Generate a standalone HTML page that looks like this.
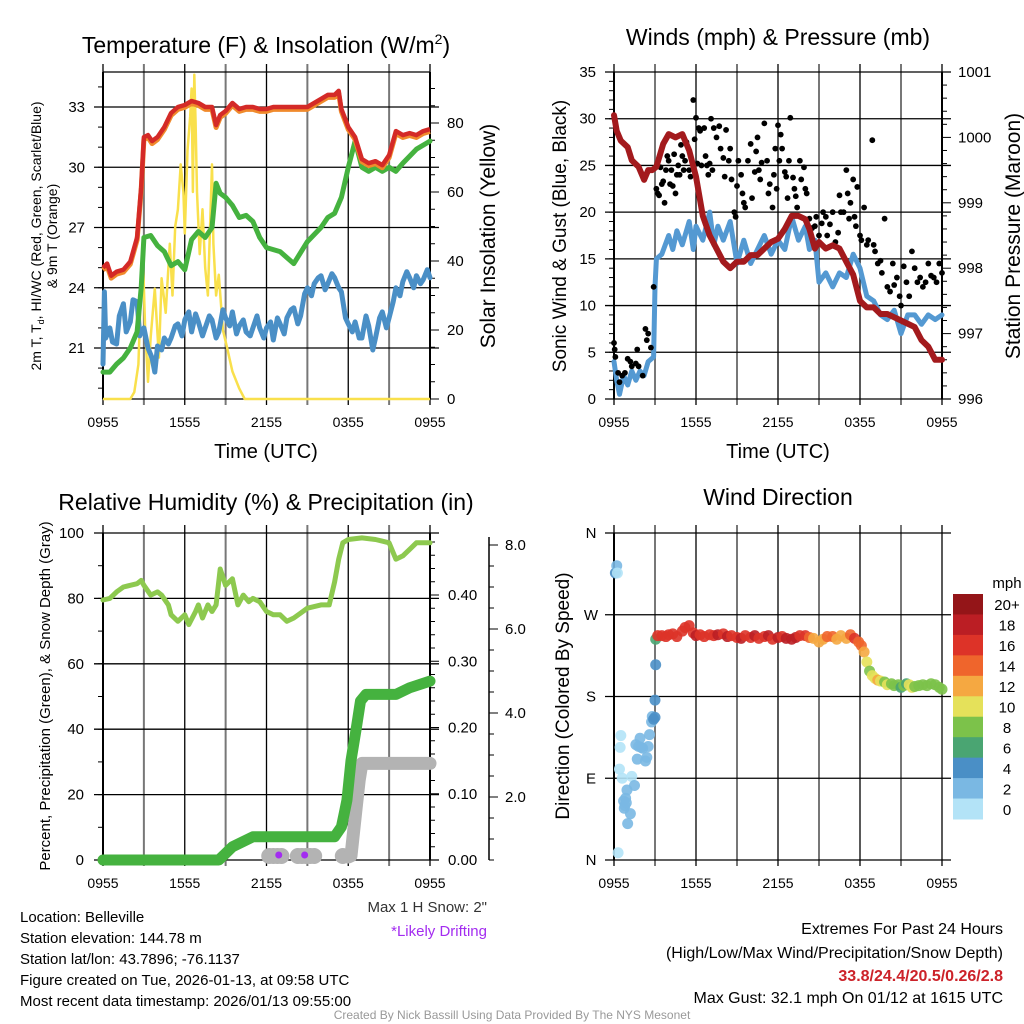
<!DOCTYPE html>
<html><head><meta charset="utf-8">
<style>
html,body{margin:0;padding:0;background:#fff;}
svg{display:block;font-family:"Liberation Sans",Arial,sans-serif;}
</style></head>
<body>
<svg id="fig" width="1024" height="1024" viewBox="0 0 1024 1024" xmlns="http://www.w3.org/2000/svg">
<g id="texts" fill="#000">
<text x="266" y="53" font-size="23" text-anchor="middle">Temperature (F) &amp; Insolation (W/m<tspan font-size="14" dy="-9">2</tspan><tspan dy="9">)</tspan></text>
<text x="778" y="45" font-size="23" text-anchor="middle">Winds (mph) &amp; Pressure (mb)</text>
<text x="266" y="510" font-size="23" text-anchor="middle">Relative Humidity (%) &amp; Precipitation (in)</text>
<text x="778" y="505" font-size="23" text-anchor="middle">Wind Direction</text>
<text x="266" y="458" font-size="20" text-anchor="middle">Time (UTC)</text>
<text x="778" y="458" font-size="20" text-anchor="middle">Time (UTC)</text>
<text transform="translate(41,236) rotate(-90)" font-size="14" text-anchor="middle">2m T, T<tspan font-size="9" dy="3">d</tspan><tspan dy="-3">, HI/WC (Red, Green, Scarlet/Blue)</tspan></text>
<text transform="translate(57,236) rotate(-90)" font-size="14" text-anchor="middle">&amp; 9m T (Orange)</text>
<text transform="translate(495,236) rotate(-90)" font-size="21" text-anchor="middle">Solar Insolation (Yellow)</text>
<text transform="translate(566,236) rotate(-90)" font-size="19" text-anchor="middle">Sonic Wind &amp; Gust (Blue, Black)</text>
<text transform="translate(1020,236) rotate(-90)" font-size="21" text-anchor="middle">Station Pressure (Maroon)</text>
<text transform="translate(50,696) rotate(-90)" font-size="15" text-anchor="middle">Percent, Precipitation (Green), &amp; Snow Depth (Gray)</text>
<text transform="translate(569,696) rotate(-90)" font-size="19" text-anchor="middle">Direction (Colored By Speed)</text>
<text x="487" y="912" font-size="15" fill="#333" text-anchor="end">Max 1 H Snow: 2"</text>
<text x="487" y="936" font-size="15" fill="#a32cf0" text-anchor="end">*Likely Drifting</text>
<g font-size="15">
<text x="20" y="922">Location: Belleville</text>
<text x="20" y="943">Station elevation: 144.78 m</text>
<text x="20" y="964">Station lat/lon: 43.7896; -76.1137</text>
<text x="20" y="985">Figure created on Tue, 2026-01-13, at 09:58 UTC</text>
<text x="20" y="1006">Most recent data timestamp: 2026/01/13 09:55:00</text>
</g>
<g font-size="16" text-anchor="end">
<text x="1003" y="934">Extremes For Past 24 Hours</text>
<text x="1003" y="958">(High/Low/Max Wind/Precipitation/Snow Depth)</text>
<text x="1003" y="981" fill="#cc2229" font-weight="bold">33.8/24.4/20.5/0.26/2.8</text>
<text x="1003" y="1003">Max Gust: 32.1 mph On 01/12 at 1615 UTC</text>
</g>
<text x="512" y="1019" font-size="12" fill="#999" text-anchor="middle">Created By Nick Bassill Using Data Provided By The NYS Mesonet</text>
<text x="1007" y="588" font-size="15" text-anchor="middle">mph</text>
</g>
</svg>
<script>
// ===== Data =====
const xTickLabels = ['0955','1555','2155','0355','0955'];
// Temperature panel (hours since 0955 UTC)
const tempH = [0,0.3,0.6,1,1.5,2,2.5,2.8,3.0,3.3,3.6,4,4.5,5,5.5,6,6.5,7,7.5,8,8.3,8.6,9,9.5,10,10.5,11,11.5,12,12.5,13,13.5,14,14.5,15,15.5,16,16.5,17,17.3,17.5,18,18.5,19,19.5,20,20.5,21,21.5,22,22.5,23,23.5,24];
const tempF = [25.0,25.2,24.6,24.8,24.9,25.3,26.5,29.0,31.5,31.6,31.3,31.5,32.0,32.7,33.0,33.1,33.3,33.2,33.0,33.0,32.1,32.6,32.8,33.2,32.9,33.0,33.0,32.9,32.9,33.0,33.0,33.0,33.0,33.0,33.0,33.2,33.4,33.6,33.6,33.8,32.9,32.0,31.5,30.4,30.2,30.3,30.1,30.6,31.8,31.6,31.7,31.6,31.8,31.9];
const dewH = [0,0.5,1,1.5,2,2.5,2.8,3.0,3.5,4,4.5,5,5.5,6,6.5,7,7.5,8,8.3,8.6,9,9.5,10,10.5,11,11.5,12,12.5,13,13.5,14,15,16,16.5,17,17.5,18,18.5,19,19.5,20,20.5,21,21.5,22,23,24];
const dewF = [19.8,19.8,20.2,20.5,21.0,21.8,24.0,26.5,26.6,26.1,25.8,25.1,25.3,24.9,26.4,26.8,26.5,27.0,29.2,28.7,28.5,28.1,27.5,27.6,27.3,26.5,26.0,25.9,25.8,25.5,25.2,26.3,27.0,27.5,27.7,28.5,30.0,31.3,30.0,29.8,30.0,29.8,30.0,29.8,30.2,30.9,31.3];
const wcH = [0,0.1,0.2,0.5,0.7,1,1.2,1.5,1.7,2,2.2,2.5,2.7,3,3.3,3.6,3.8,4,4.3,4.5,4.8,5,5.3,5.5,5.8,6,6.3,6.5,6.8,7,7.3,7.5,7.8,8,8.3,8.5,8.8,9,9.3,9.5,9.8,10,10.3,10.5,10.8,11,11.3,11.5,11.8,12,12.3,12.5,12.8,13,13.3,13.5,13.8,14,14.3,14.5,14.8,15,15.3,15.5,15.8,16,16.3,16.5,16.8,17,17.3,17.5,17.8,18,18.3,18.5,18.8,19,19.3,19.5,19.8,20,20.3,20.5,20.8,21,21.3,21.5,21.8,22,22.3,22.5,22.8,23,23.3,23.5,23.8,24];
const wcF = [20.2,23.8,21.5,22.0,21.3,21.2,22.6,23.2,21.8,22.3,23.4,23.3,21.6,22.0,21.0,20.5,19.8,21.1,20.9,21.5,21.2,21.5,22.1,22.2,21.6,22.4,22.8,21.8,22.7,22.3,21.6,22.0,22.6,22.4,21.5,21.8,22.9,22.5,22.1,22.8,21.7,22.1,22.4,21.8,21.6,22.0,22.6,22.0,21.5,22.0,22.3,21.4,22.5,22.2,21.7,22.5,22.9,23.0,22.2,22.6,23.7,24.0,23.6,24.2,24.5,24.6,23.9,24.2,24.7,24.5,24.0,23.8,22.5,22.2,21.8,22.3,21.5,21.5,22.6,22.1,20.9,21.5,22.5,22.8,22.0,22.5,23.3,24.0,23.6,24.3,24.8,24.5,24.0,24.6,24.2,24.4,24.9,24.5];
const solH = [0,2.0,2.3,2.6,2.9,3.1,3.3,3.5,3.8,4.1,4.3,4.6,4.9,5.1,5.3,5.5,5.7,5.9,6.0,6.2,6.4,6.5,6.6,6.7,6.8,6.9,7.1,7.3,7.5,7.7,7.9,8.0,8.1,8.3,8.5,8.8,9.1,9.5,10,10.4,24];
const solW = [0,0,2,10,45,20,5,18,32,12,35,25,45,30,50,55,68,60,48,72,82,90,60,94,80,60,42,55,38,30,55,68,45,30,36,20,15,8,3,0,0];
// Wind panel
const windH = [0,0.2,0.4,0.7,1,1.3,1.6,1.9,2.2,2.5,2.9,3.0,3.1,3.5,4,4.3,4.6,5,5.5,5.8,6,6.5,7,7.3,7.6,8,8.5,9,9.5,10,10.5,11,11.5,12,12.5,13,13.5,14,14.3,14.7,15,15.5,16,16.5,17,17.5,18,18.5,19,19.5,20,20.5,21,21.5,22,22.5,23,23.5,24];
const windMph = [4,2,0.5,2.5,1.5,3,2,3,2.5,4,4.5,12,15,15.5,17.5,16,18,16.5,19,16,18.5,17,20,16.5,18.5,17,19,14.5,17,14.5,16,17.5,15.5,17,16,19.5,17,18.5,16,17,12.5,13.5,12,13.5,13,15.5,14,11,10.5,9,8.5,9.5,7,9,9,8,9,8.5,9];
const presH = [0,0.2,0.5,1,1.3,1.8,2.2,2.5,2.8,3.1,3.6,4,4.5,5,5.5,6,6.5,7,7.5,8,8.5,9,9.5,10,10.5,11,11.5,12,12.5,13,13.5,14,14.3,14.7,15,15.5,16,16.5,17,17.5,18,18.5,19,19.5,20,21,22,22.5,23,23.5,24];
const presMb = [1000.34,1000.1,999.95,999.85,999.65,999.55,999.35,999.5,999.5,999.55,999.9,1000.05,1000.0,1000.05,999.8,999.4,998.8,998.5,998.3,998.1,998.0,998.1,998.1,998.2,998.2,998.3,998.4,998.45,998.6,998.8,998.8,998.75,998.6,998.3,998.4,998.3,998.35,998.3,998.1,997.9,997.5,997.4,997.4,997.3,997.3,997.2,997.1,996.9,996.8,996.6,996.6];
const gustH = [0,0.05,0.1,0.3,0.4,0.6,0.8,1.0,1.2,1.3,1.6,1.7,1.8,2.1,2.3,2.4,2.5,2.7,2.9,3.1,3.2,3.3,3.4,3.5,3.6,3.7,3.8,3.9,4.0,4.1,4.2,4.3,4.4,4.5,4.6,4.7,4.8,4.9,5.0,5.1,5.2,5.3,5.5,5.6,5.8,5.9,6.0,6.1,6.2,6.3,6.4,6.6,6.7,6.8,6.9,7.0,7.1,7.2,7.3,7.5,7.7,7.8,8.0,8.1,8.2,8.4,8.5,8.6,8.8,8.9,9.0,9.1,9.3,9.4,9.5,9.6,9.8,10.0,10.1,10.3,10.4,10.5,10.6,10.7,10.8,11.0,11.2,11.3,11.4,11.6,11.7,11.8,11.9,12.0,12.1,12.2,12.3,12.5,12.6,12.7,12.8,12.9,13.1,13.2,13.3,13.4,13.6,13.7,13.9,14.0,14.1,14.3,14.5,14.7,14.8,15.0,15.2,15.3,15.5,15.6,15.8,16.0,16.2,16.4,16.5,16.6,16.8,17.0,17.1,17.2,17.3,17.5,17.6,17.7,17.8,18.0,18.1,18.3,18.5,18.6,18.9,19.0,19.1,19.3,19.5,19.6,19.8,20.0,20.2,20.4,20.5,20.7,20.9,21.0,21.2,21.4,21.6,21.8,22.0,22.2,22.4,22.6,22.8,23.0,23.2,23.4,23.6,23.8,24.0];
const gustMph = [6,5.3,4.5,2.8,1.8,2.5,2.8,4.3,4.0,3.5,3.8,5.3,3.5,2.5,7.5,6.3,7.0,5.5,12,22.5,22,21.8,24.8,23,23.3,21,24.5,26,25.5,23,24.5,22.8,26.2,22,24,25,24,27.2,26,24.5,25.5,27.5,24.5,23.8,32,27.8,30.1,25.2,29,28.7,25,29,26,25,24,25.2,30,24.5,29,28,29.2,26.8,25.8,23.8,28.8,25.5,26.8,23.5,20,19.5,22.8,25.5,24,22,21,20.5,25.5,27.3,21.5,24.3,26.5,28,24.5,23.5,25.3,29.5,25.5,22,23,20.5,24,26.8,22.5,29.3,25.5,28.3,26.8,24.3,23.8,21.5,25.5,30.1,23.7,22.5,21.7,20.5,25.5,23.5,24.8,22.5,22,19.3,18.3,18.5,19.5,17.5,18.8,20,19.5,17.5,18.7,20,16.8,17.8,21.8,20,20,24.5,22,19.3,21,23.5,19.5,18.5,22.7,17.5,17,20.5,16.5,17,27.7,16.5,15.8,14.5,14.8,13.5,19.3,12,11.5,14.5,12.2,13,11,10,14.2,12.5,11,15.8,14,12.5,13,12,12.5,14.5,13.2,13,12.5,14.5,13.5];
// Humidity panel
const rhH = [0,0.5,1,1.5,2,2.5,2.8,3,3.5,4,4.3,4.8,5,5.5,6,6.3,6.8,7,7.3,7.7,8.0,8.3,8.6,9,9.5,9.9,10.3,10.7,11,11.5,12,12.5,13,13.5,14,14.5,15,15.5,16,16.6,17,17.3,17.6,18,19,20,21,21.5,22,22.5,23,24];
const rhPct = [79.5,80,82,83.5,84,84.5,85.5,84,81,82,81,78,75,73,75,72,76,78,74,78,76,78,89,84,86,78,81,79,80,79,76,75,75,73,74,75.5,77,77.5,78,78,85,92,97,98,98.5,98,97,92,93,95,97,97];
const pcpH = [0,8.5,9,9.5,10,11,12,14,17,17.5,17.7,17.9,18.0,18.2,18.6,18.9,19.3,20,21,21.5,22.5,24];
const pcpIn = [0,0,0.01,0.02,0.025,0.035,0.035,0.035,0.035,0.05,0.07,0.09,0.11,0.15,0.2,0.24,0.25,0.25,0.25,0.25,0.26,0.27];
const snowH = [18.0,18.2,18.4,18.6,18.8,19.0,20,21,22,23,24];
const snowIn = [0.3,0.6,1.2,1.8,2.4,2.8,2.8,2.8,2.8,2.8,2.8];
const snowZeroH = [12.2,12.5,12.8,13.1,14.3,14.6,14.9,15.2,15.5,17.6];
const driftH = [12.9,14.8];
// Wind direction panel
const dirH = [0.1,0.2,0.25,0.3,0.4,0.45,0.5,0.6,0.7,0.75,0.8,0.85,0.9,0.95,1.0,1.2,1.3,1.5,1.6,1.7,1.8,1.9,2.0,2.1,2.3,2.4,2.5,2.6,2.75,2.8,2.9,3.0,3.0,3.05,3.05,3.2,3.5,3.8,4.0,4.3,4.6,5.0,5.2,5.5,5.8,6.0,6.3,6.6,7.0,7.3,7.6,8.0,8.3,8.6,9.0,9.3,9.6,10.0,10.3,10.6,11.0,11.3,11.6,12.0,12.3,12.6,13.0,13.3,13.6,14.0,14.3,14.6,15.0,15.3,15.6,16.0,16.3,16.6,17.0,17.3,17.6,17.9,18.1,18.3,18.5,18.7,18.9,19.1,19.3,19.5,19.8,20.0,20.3,20.5,20.8,21.0,21.2,21.4,21.6,21.8,22.0,22.3,22.6,22.9,23.2,23.5,23.8,24.0];
const dirDeg = [316,324,316,8,100,124,137,90,65,57,60,68,63,77,40,51,92,82,127,111,125,134,124,123,109,113,125,138,152,158,155,157,176,215,243,247,247,246,248,249,246,252,256,258,250,247,248,246,248,247,248,249,246,247,245,244,247,245,247,244,246,247,243,245,246,244,243,245,247,247,245,244,240,243,246,246,243,247,244,248,244,240,236,229,218,208,203,200,198,197,196,193,194,192,193,190,192,194,193,190,191,192,193,192,194,193,190,188];
const dirSpd = [4,3,1,0,1,1,1,1,2,2,2,2,2,2,2,2,1,2,2,2,2,3,2,2,2,2,2,2,2,3,4,4,4,4,7,16,17,17,16,17,17,16,16,16,17,18,17,17,17,17,18,17,19,17,17,18,17,16,18,17,17,18,17,18,17,19,18,18,16,17,14,12,12,12,14,15,13,13,12,15,16,15,14,13,11,9,11,10,12,11,9,10,9,8,8,7,9,7,11,10,8,9,8,9,8,9,8,8];
const cbLabels = ['20+','18','16','14','12','10','8','6','4','2','0'];
const cbColors = ['#941518','#bb1e24','#dd3328','#ef652c','#f5a841','#e5e15a','#7cc24a','#4aa572','#4a8fc6','#7ab8e3','#b3e3f7'];
const tempTicks = [21,24,27,30,33];
const solTicks = [0,20,40,60,80];
const windTicks = [0,5,10,15,20,25,30,35];
const presTicks = [996,997,998,999,1000,1001];
const rhTicks = [0,20,40,60,80,100];
const pcpTicks = ['0.00','0.10','0.20','0.30','0.40'];
const snowTicks = ['2.0','4.0','6.0','8.0'];
const dirTicks = ['N','E','S','W','N'];

// ===== Drawing =====
const NS = 'http://www.w3.org/2000/svg';
const svg = document.getElementById('fig');
function mk(tag, attrs, parent){
  const e = document.createElementNS(NS, tag);
  for (const k in attrs) e.setAttribute(k, attrs[k]);
  (parent||svg).appendChild(e);
  return e;
}
function lin(d0,d1,r0,r1){return v => r0 + (v-d0)*(r1-r0)/(d1-d0);}
function pathOf(xs, ys, fx, fy){
  return xs.map((h,i)=>(i?'L':'M')+fx(h).toFixed(1)+','+fy(ys[i]).toFixed(1)).join('');
}

function frame(x0,x1,y0,y1,name){
  const g = mk('g',{});
  
  
  const fx = lin(0,24,x0,x1);
  for (let k=0;k<=8;k++){
    const x = fx(k*3);
    const gl = mk('line',{x1:x,x2:x,y1:y0-8,y2:y1+6,stroke:k%2?'#777':'#000','stroke-width':k%2?2:1.3},g);
    
    
  }
  for (let k=0;k<5;k++){
    const t = mk('text',{x:fx(k*6),y:y1+28,'font-size':14,'text-anchor':'middle'},g);
    
    
    t.textContent = xTickLabels[k];
  }
  return {g, fx};
}
function hgrid(g,x0,x1,y,lab,lx,anchor,size){
  const l = mk('line',{x1:x0-9,x2:x1+9,y1:y,y2:y,stroke:'#000','stroke-width':1.3},g);
  
  
  if (lab!==null){
    const t = mk('text',{x:lx,y:y+5,'font-size':size||15,'text-anchor':anchor},g);
    
    
    t.textContent = lab;
  }
}
function minorTicks(g,x,y0,y1,step,dir){
  for (let y=y0;y<=y1+0.1;y+=step){
    mk('line',{x1:x,x2:x+dir*5,y1:y,y2:y,stroke:'#000','stroke-width':1},g);
  }
}

// --- Panel 1: Temperature ---
{
  const x0=103,x1=430,y0=72,y1=399;
  const {g,fx} = frame(x0,x1,y0,y1,'temperature-panel');
  const fy = lin(33,21,107,348);
  const fs = lin(0,80,399,123);
  tempTicks.forEach(v=>hgrid(g,x0,x1,fy(v),String(v),85,'end',15));
  mk('line',{x1:x0,x2:x1,y1:y0,y2:y0,stroke:'#000','stroke-width':1.3},g);
  mk('line',{x1:x0,x2:x1,y1:y1,y2:y1,stroke:'#000','stroke-width':1.3},g);
  mk('line',{x1:x0,x2:x0,y1:y0,y2:y1,stroke:'#000','stroke-width':2},g);
  mk('line',{x1:x1,x2:x1,y1:y0,y2:y1,stroke:'#000','stroke-width':2},g);
  minorTicks(g,x0,fy(34),y1,fy(32)-fy(33),-1);
  for (let v=0; v<=90; v+=5) mk('line',{x1:x1,x2:x1+(v%20?5:9),y1:fs(v),y2:fs(v),stroke:'#000','stroke-width':1},g);
  solTicks.forEach(v=>{const t=mk('text',{x:447,y:fs(v)+5,'font-size':15},g);t.textContent=String(v);});
  const sol = mk('path',{d:pathOf(solH,solW,fx,fs),fill:'none',stroke:'#f9e04c','stroke-width':2.5,'stroke-linejoin':'round'});
   
  const wc = mk('path',{d:pathOf(wcH,wcF,fx,fy),fill:'none',stroke:'#4a8fc6','stroke-width':5,'stroke-linejoin':'round','stroke-linecap':'round'});
   
  const dw = mk('path',{d:pathOf(dewH,dewF,fx,fy),fill:'none',stroke:'#45b23f','stroke-width':5,'stroke-linejoin':'round','stroke-linecap':'round'});
   
  const t9 = mk('path',{d:pathOf(tempH,tempF.map(v=>v-0.12),fx,fy),fill:'none',stroke:'#f08a2c','stroke-width':5,'stroke-linejoin':'round'});
   
  const t2 = mk('path',{d:pathOf(tempH,tempF,fx,fy),fill:'none',stroke:'#d42a27','stroke-width':4.5,'stroke-linejoin':'round'});
   
}

// --- Panel 2: Winds ---
{
  const x0=614,x1=942,y0=72,y1=399;
  const {g,fx} = frame(x0,x1,y0,y1,'winds-panel');
  const fy = lin(0,35,399,72);
  const fp = lin(996,1001,399,72);
  windTicks.forEach(v=>hgrid(g,x0,x1,fy(v),String(v),596,'end',15));
  mk('line',{x1:x0,x2:x0,y1:y0,y2:y1,stroke:'#000','stroke-width':2},g);
  mk('line',{x1:x1,x2:x1,y1:y0,y2:y1,stroke:'#000','stroke-width':2},g);
  minorTicks(g,x0,y0,y1,fy(0)-fy(1),-1);
  for (let v=996; v<=1001.01; v+=0.2) mk('line',{x1:x1,x2:x1+(Math.abs(v-Math.round(v))<0.01?9:5),y1:fp(v),y2:fp(v),stroke:'#000','stroke-width':1},g);
  presTicks.forEach(v=>{const t=mk('text',{x:958,y:fp(v)+5,'font-size':15},g);t.textContent=String(v);});
  const w = mk('path',{d:pathOf(windH,windMph,fx,fy),fill:'none',stroke:'#5499d2','stroke-width':5,'stroke-linejoin':'round','stroke-linecap':'round'});
   
  const gg = mk('g',{fill:'#000'});
   
  gustH.forEach((h,i)=>{
    const c = mk('circle',{cx:fx(h),cy:fy(gustMph[i]),r:2.9},gg);
    
    
  });
  const p = mk('path',{d:pathOf(presH,presMb,fx,fp),fill:'none',stroke:'#a31a1d','stroke-width':6,'stroke-linejoin':'round','stroke-linecap':'round'});
   
}

// --- Panel 3: Humidity ---
{
  const x0=103,x1=430,y0=533,y1=860;
  const {g,fx} = frame(x0,x1,y0,y1,'humidity-panel');
  const fy = lin(0,100,860,533);
  const fpc = lin(0,0.4,860,595);
  const fsn = lin(2,8,797,545);
  rhTicks.forEach(v=>hgrid(g,x0,x1,fy(v),String(v),84,'end',15));
  mk('line',{x1:x0,x2:x0,y1:y0,y2:y1,stroke:'#000','stroke-width':2},g);
  mk('line',{x1:x1,x2:x1,y1:y0,y2:y1,stroke:'#000','stroke-width':2},g);
  minorTicks(g,x0,y0,y1,fy(0)-fy(10),-1);
  for (let v=0; v<=0.5; v+=0.02) mk('line',{x1:x1,x2:x1+(Math.round(v*100)%10?5:9),y1:fpc(v),y2:fpc(v),stroke:'#000','stroke-width':1},g);
  pcpTicks.forEach(v=>{const t=mk('text',{x:448,y:fpc(+v)+5,'font-size':15},g);t.textContent=v;});
  mk('line',{x1:489,x2:489,y1:537,y2:860,stroke:'#000','stroke-width':1.5},g);
  for (let v=0.5; v<=8.2; v+=0.5) mk('line',{x1:489,x2:489+(Math.round(v*10)%20?5:9),y1:fsn(v),y2:fsn(v),stroke:'#000','stroke-width':1},g);
  snowTicks.forEach(v=>{const t=mk('text',{x:505,y:fsn(+v)+5,'font-size':15},g);t.textContent=v;});
  const gray = mk('g',{fill:'#b3b3b3'});
   
  snowZeroH.forEach(h=>{const c=mk('circle',{cx:fx(h),cy:856,r:8},gray);});
  const sp = mk('path',{d:pathOf(snowH,snowIn,fx,v=>Math.min(fsn(v),857)),fill:'none',stroke:'#b3b3b3','stroke-width':13,'stroke-linecap':'round','stroke-linejoin':'round'});
   
  driftH.forEach(h=>{const c=mk('circle',{cx:fx(h),cy:855,r:3.5,fill:'#a32cf0'});});
  const pc = mk('path',{d:pathOf(pcpH,pcpIn,fx,fpc),fill:'none',stroke:'#45b23f','stroke-width':11,'stroke-linecap':'round','stroke-linejoin':'round'});
   
  const rh = mk('path',{d:pathOf(rhH,rhPct,fx,fy),fill:'none',stroke:'#8dc94f','stroke-width':5,'stroke-linejoin':'round','stroke-linecap':'round'});
   
}

// --- Panel 4: Wind Direction ---
{
  const x0=614,x1=942,y0=533,y1=860;
  const {g,fx} = frame(x0,x1,y0,y1,'wind-direction-panel');
  const fy = lin(0,360,860,533);
  dirTicks.forEach((lab,i)=>hgrid(g,x0,x1,fy(i*90),lab,591,'middle',15));
  mk('line',{x1:x0,x2:x0,y1:y0,y2:y1,stroke:'#000','stroke-width':2},g);
  function col(s){const k=Math.min(10,Math.floor(s/2));return cbColors[10-k];}
  const dg = mk('g',{'fill-opacity':0.9});
   
  dirH.forEach((h,i)=>{
    const c = mk('circle',{cx:fx(h),cy:fy(dirDeg[i]),r:5.5,fill:col(dirSpd[i])},dg);
    
    
  });
  const cb = mk('g',{});
   
  const bh = (819-594)/11;
  cbColors.forEach((c,i)=>{
    const r = mk('rect',{x:953,y:594+i*bh,width:30,height:bh+0.5,fill:c},cb);
    
    
    const t = mk('text',{x:1007,y:594+i*bh+bh/2+6,'font-size':15,'text-anchor':'middle'},cb);
    
    
    t.textContent = cbLabels[i];
  });
}
</script>
</body></html>
